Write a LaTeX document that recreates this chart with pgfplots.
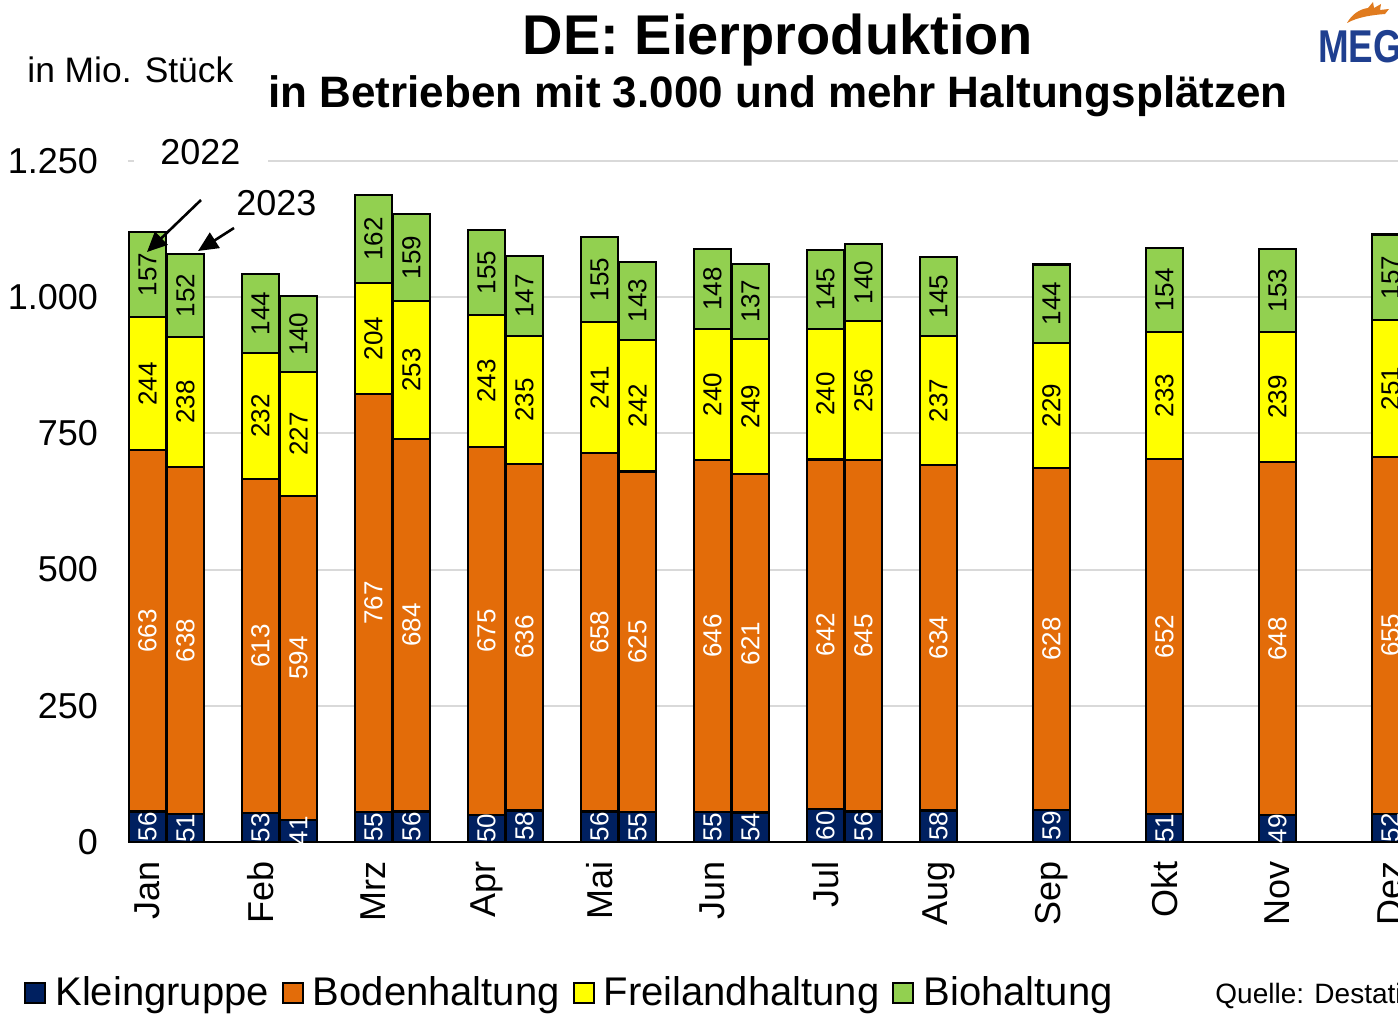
\documentclass[border=0pt]{standalone}
\usepackage{fontspec}
\setmainfont{Liberation Sans}
\usepackage{pgfplots}
\usepackage{pgfplotstable}
\pgfplotsset{compat=1.18}
\usetikzlibrary{arrows.meta}

\definecolor{klein}{HTML}{002060}
\definecolor{boden}{HTML}{E36C09}
\definecolor{frei}{HTML}{FFFF00}
\definecolor{bio}{HTML}{92D050}
\definecolor{gridgray}{HTML}{D9D9D9}
\definecolor{megblue}{HTML}{1F3F8F}
\definecolor{megorange}{HTML}{E07B1F}

% x: month index (2022 bar at i, 2023 bar at i+0.3363)
\pgfplotstableread{
x      klein boden frei bio
0      56 663 244 157
0.3363 51 638 238 152
1      53 613 232 144
1.3363 41 594 227 140
2      55 767 204 162
2.3363 56 684 253 159
3      50 675 243 155
3.3363 58 636 235 147
4      56 658 241 155
4.3363 55 625 242 143
5      55 646 240 148
5.3363 54 621 249 137
6      60 642 240 145
6.3363 56 645 256 140
7      58 634 237 145
8      59 628 229 144
9      51 652 233 154
10     49 648 239 153
11     52 655 251 157
}\eier

\begin{document}
\begin{tikzpicture}
\path[use as bounding box] (0pt,0pt) rectangle (699pt,-507.5pt);

\begin{axis}[
    at={(64pt,-421pt)}, anchor=south west,
    scale only axis, width=661pt, height=340.5pt,
    xmin=-0.1726, xmax=11.527, ymin=0, ymax=1250,
    ybar stacked, bar width=18.5pt,
    axis x line*=bottom, axis y line*=left,
    x axis line style={black, line width=1.1pt},
    y axis line style={draw=none},
    ymajorgrids, grid style={gridgray, line width=1pt},
    major tick length=0pt,
    ytick={0,250,...,1250},
    scaled y ticks=false,
    /pgf/number format/1000 sep={.},
    /pgf/number format/assume math mode=true,
    yticklabel style={font=\fontsize{18}{20}\selectfont, xshift=-11.5pt},
    xtick={0,...,11},
    xticklabels={Jan,Feb,Mrz,Apr,Mai,Jun,Jul,Aug,Sep,Okt,Nov,Dez},
    xticklabel style={font=\fontsize{18}{20}\selectfont, yshift=-6pt, rotate=90, anchor=east},
    point meta=explicit symbolic,
    nodes near coords={\pgfplotspointmeta},
    nodes near coords align={center},
    every node near coord/.append style={rotate=90, anchor=center,
        font=\fontsize{13}{14}\selectfont},
    legend columns=4,
    legend image code/.code={\draw[#1, draw=black, line width=0.9pt] (0pt,-5pt) rectangle (10pt,5pt);
        \path (12.5pt,0pt);},
    legend style={at={(-0.0787,-0.2217)}, anchor=west, draw=none, fill=none,
        font=\fontsize{20}{22}\selectfont, inner sep=0pt,
        /tikz/every even column/.append style={column sep=4.5pt}},
    legend cell align=left,
]
\addplot[fill=klein, draw=black, line width=1.1pt,
    every node near coord/.append style={text=white}]
    table[x=x, y=klein, meta=klein] {\eier};
\addplot[fill=boden, draw=black, line width=1.1pt,
    every node near coord/.append style={text=white}]
    table[x=x, y=boden, meta=boden] {\eier};
\addplot[fill=frei, draw=black, line width=1.1pt,
    every node near coord/.append style={text=black}]
    table[x=x, y=frei, meta=frei] {\eier};
\addplot[fill=bio, draw=black, line width=1.1pt,
    every node near coord/.append style={text=black}]
    table[x=x, y=bio, meta=bio] {\eier};
\legend{Kleingruppe,Bodenhaltung,Freilandhaltung,Biohaltung}
\end{axis}

\begin{scope}[x=0.5pt, y=-0.5pt]
\fill[white] (134,146) rectangle (268,174);
\node[anchor=base west, inner sep=0pt, font=\fontsize{18}{20}\selectfont] at (160,165) {2022};
\node[anchor=base west, inner sep=0pt, font=\fontsize{18}{20}\selectfont] at (236,216) {2023};
\draw[line width=1.3pt, -{Triangle[length=10pt,width=9pt]}] (201,200) -- (147,252);
\draw[line width=1.3pt, -{Triangle[length=10pt,width=9pt]}] (234,228) -- (198,251);

\node[anchor=base, inner sep=0pt, font=\bfseries\fontsize{28}{30}\selectfont] at (778,55) {DE: Eierproduktion};
\node[anchor=base, inner sep=0pt, font=\bfseries\fontsize{22}{24}\selectfont] at (778,108) {in Betrieben mit 3.000 und mehr Haltungsplätzen};
\node[anchor=base west, inner sep=0pt, font=\fontsize{17.7}{20}\selectfont] at (27,83) {in Mio. Stück};
\node[anchor=base west, inner sep=0pt, font=\fontsize{14}{16}\selectfont] at (1215,1003) {Quelle: Destatis};

% logo
\fill[megorange] (1347,23) .. controls (1352,14) and (1360,9) .. (1368,8)
    -- (1373,2) -- (1374,8) .. controls (1377,6) .. (1381,4)
    -- (1380,10) .. controls (1384,9) .. (1389,9)
    -- (1385,14) .. controls (1372,15) and (1358,17) .. cycle;
\node[anchor=base west, inner sep=0pt, text=megblue, xscale=0.8,
    font=\bfseries\fontsize{23}{24}\selectfont] at (1318,63) {MEG};
\end{scope}
\end{tikzpicture}
\end{document}
